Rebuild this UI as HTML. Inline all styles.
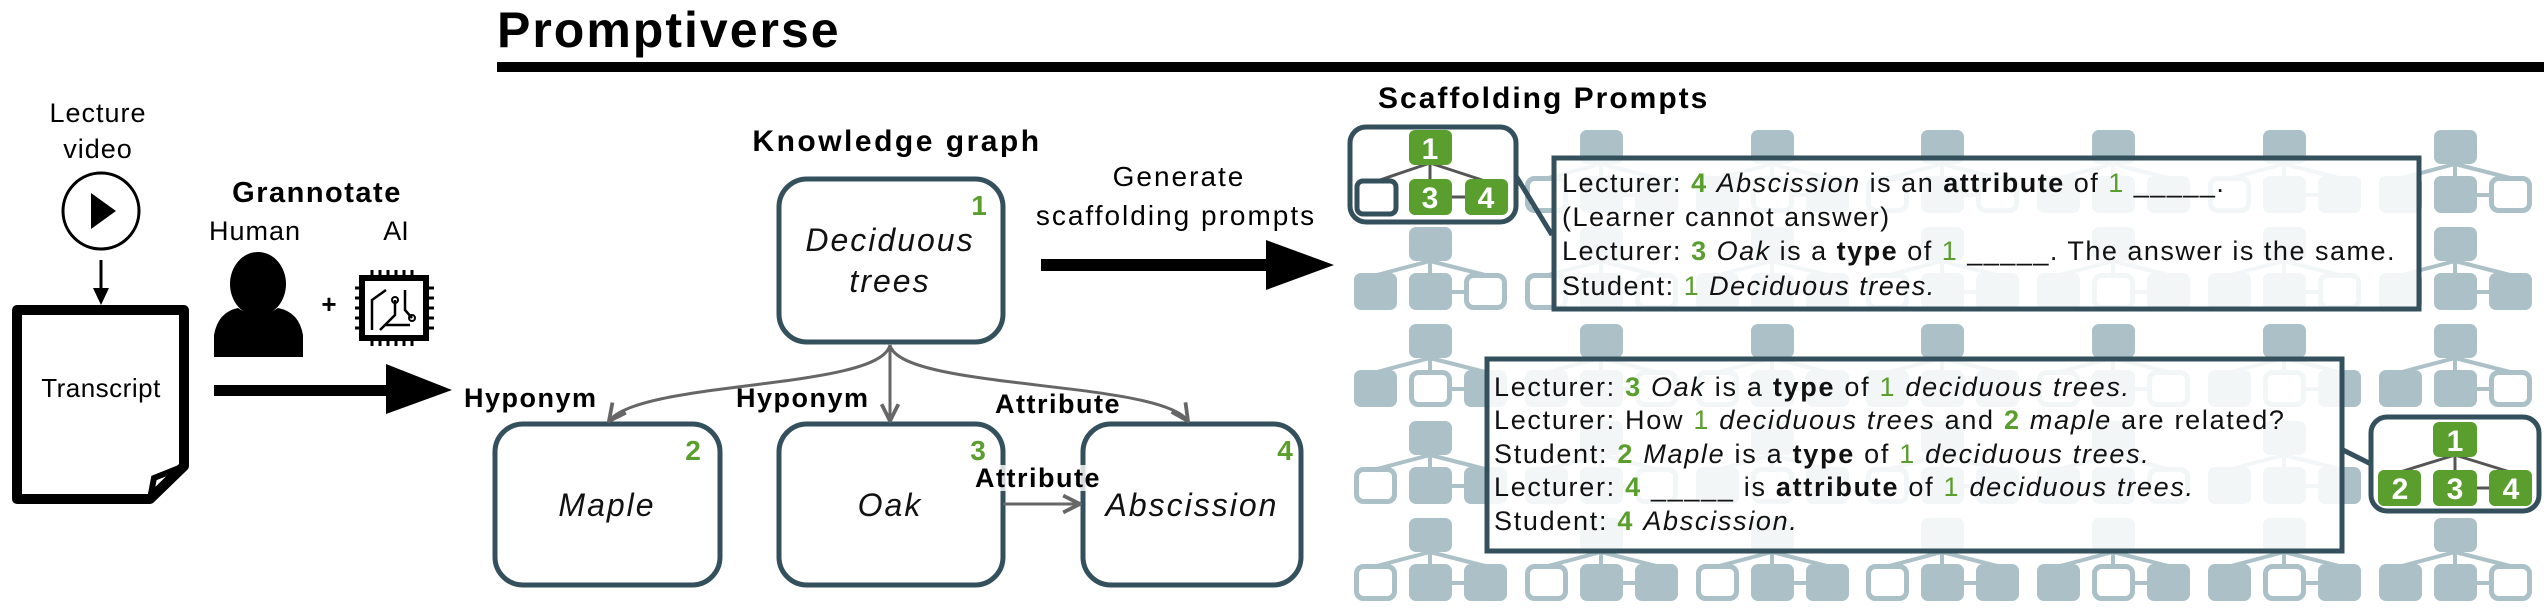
<!DOCTYPE html>
<html><head><meta charset="utf-8"><style>
html,body{margin:0;padding:0;background:#fff;}
svg{display:block;}
text{font-family:"Liberation Sans",sans-serif;}
</style></head><body>
<svg width="2544" height="608" viewBox="0 0 2544 608" xmlns="http://www.w3.org/2000/svg">
<defs>
<marker id="ah" viewBox="0 0 10 10" refX="9" refY="5" markerWidth="7" markerHeight="7" orient="auto-start-reverse"><path d="M1,1 L9,5 L1,9" fill="none" stroke="#666" stroke-width="1.8"/></marker>
<g id="T">
<rect x="-21" y="0" width="43" height="34" rx="7" fill="#abc1c7"/>
<path d="M0,34 L-53,48 M0,34 L0,48 M0,34 L55,48 M22,65 L34,65" stroke="#abc1c7" stroke-width="4" fill="none"/>
</g>
<rect id="F" x="0" y="0" width="43" height="37" rx="7" fill="#abc1c7"/>
<rect id="O" x="2.5" y="2.5" width="38" height="32" rx="7" fill="#fff" stroke="#abc1c7" stroke-width="5"/>
</defs>

<g>
<g transform="translate(1430,130)"><use href="#T"/><use href="#F" x="-76" y="46"/><use href="#F" x="-21" y="46"/><use href="#O" x="34" y="46"/></g>
<g transform="translate(1601,130)"><use href="#T"/><use href="#O" x="-76" y="46"/><use href="#F" x="-21" y="46"/><use href="#F" x="34" y="46"/></g>
<g transform="translate(1772,130)"><use href="#T"/><use href="#F" x="-76" y="46"/><use href="#O" x="-21" y="46"/><use href="#F" x="34" y="46"/></g>
<g transform="translate(1942,130)"><use href="#T"/><use href="#O" x="-76" y="46"/><use href="#F" x="-21" y="46"/><use href="#O" x="34" y="46"/></g>
<g transform="translate(2113,130)"><use href="#T"/><use href="#F" x="-76" y="46"/><use href="#F" x="-21" y="46"/><use href="#F" x="34" y="46"/></g>
<g transform="translate(2284,130)"><use href="#T"/><use href="#O" x="-76" y="46"/><use href="#F" x="-21" y="46"/><use href="#F" x="34" y="46"/></g>
<g transform="translate(2455,130)"><use href="#T"/><use href="#F" x="-76" y="46"/><use href="#F" x="-21" y="46"/><use href="#O" x="34" y="46"/></g>

<g transform="translate(1430,227)"><use href="#T"/><use href="#F" x="-76" y="46"/><use href="#F" x="-21" y="46"/><use href="#O" x="34" y="46"/></g>
<g transform="translate(1601,227)"><use href="#T"/><use href="#O" x="-76" y="46"/><use href="#F" x="-21" y="46"/><use href="#O" x="34" y="46"/></g>
<g transform="translate(1772,227)"><use href="#T"/><use href="#F" x="-76" y="46"/><use href="#F" x="-21" y="46"/><use href="#F" x="34" y="46"/></g>
<g transform="translate(1942,227)"><use href="#T"/><use href="#O" x="-76" y="46"/><use href="#F" x="-21" y="46"/><use href="#F" x="34" y="46"/></g>
<g transform="translate(2113,227)"><use href="#T"/><use href="#F" x="-76" y="46"/><use href="#O" x="-21" y="46"/><use href="#F" x="34" y="46"/></g>
<g transform="translate(2284,227)"><use href="#T"/><use href="#F" x="-76" y="46"/><use href="#F" x="-21" y="46"/><use href="#O" x="34" y="46"/></g>
<g transform="translate(2455,227)"><use href="#T"/><use href="#F" x="-76" y="46"/><use href="#F" x="-21" y="46"/><use href="#F" x="34" y="46"/></g>

<g transform="translate(1430,324)"><use href="#T"/><use href="#F" x="-76" y="46"/><use href="#O" x="-21" y="46"/><use href="#F" x="34" y="46"/></g>
<g transform="translate(1601,324)"><use href="#T"/><use href="#F" x="-76" y="46"/><use href="#F" x="-21" y="46"/><use href="#O" x="34" y="46"/></g>
<g transform="translate(1772,324)"><use href="#T"/><use href="#O" x="-76" y="46"/><use href="#F" x="-21" y="46"/><use href="#F" x="34" y="46"/></g>
<g transform="translate(1942,324)"><use href="#T"/><use href="#F" x="-76" y="46"/><use href="#F" x="-21" y="46"/><use href="#F" x="34" y="46"/></g>
<g transform="translate(2113,324)"><use href="#T"/><use href="#O" x="-76" y="46"/><use href="#F" x="-21" y="46"/><use href="#O" x="34" y="46"/></g>
<g transform="translate(2284,324)"><use href="#T"/><use href="#F" x="-76" y="46"/><use href="#O" x="-21" y="46"/><use href="#F" x="34" y="46"/></g>
<g transform="translate(2455,324)"><use href="#T"/><use href="#F" x="-76" y="46"/><use href="#F" x="-21" y="46"/><use href="#O" x="34" y="46"/></g>

<g transform="translate(1430,421)"><use href="#T"/><use href="#O" x="-76" y="46"/><use href="#F" x="-21" y="46"/><use href="#F" x="34" y="46"/></g>
<g transform="translate(1601,421)"><use href="#T"/><use href="#F" x="-76" y="46"/><use href="#F" x="-21" y="46"/><use href="#O" x="34" y="46"/></g>
<g transform="translate(1772,421)"><use href="#T"/><use href="#F" x="-76" y="46"/><use href="#O" x="-21" y="46"/><use href="#F" x="34" y="46"/></g>
<g transform="translate(1942,421)"><use href="#T"/><use href="#O" x="-76" y="46"/><use href="#F" x="-21" y="46"/><use href="#F" x="34" y="46"/></g>
<g transform="translate(2113,421)"><use href="#T"/><use href="#F" x="-76" y="46"/><use href="#F" x="-21" y="46"/><use href="#O" x="34" y="46"/></g>
<g transform="translate(2284,421)"><use href="#T"/><use href="#F" x="-76" y="46"/><use href="#F" x="-21" y="46"/><use href="#F" x="34" y="46"/></g>

<g transform="translate(1430,518)"><use href="#T"/><use href="#O" x="-76" y="46"/><use href="#F" x="-21" y="46"/><use href="#F" x="34" y="46"/></g>
<g transform="translate(1601,518)"><use href="#T"/><use href="#O" x="-76" y="46"/><use href="#F" x="-21" y="46"/><use href="#F" x="34" y="46"/></g>
<g transform="translate(1772,518)"><use href="#T"/><use href="#O" x="-76" y="46"/><use href="#F" x="-21" y="46"/><use href="#F" x="34" y="46"/></g>
<g transform="translate(1942,518)"><use href="#T"/><use href="#O" x="-76" y="46"/><use href="#F" x="-21" y="46"/><use href="#F" x="34" y="46"/></g>
<g transform="translate(2113,518)"><use href="#T"/><use href="#F" x="-76" y="46"/><use href="#O" x="-21" y="46"/><use href="#F" x="34" y="46"/></g>
<g transform="translate(2284,518)"><use href="#T"/><use href="#F" x="-76" y="46"/><use href="#O" x="-21" y="46"/><use href="#F" x="34" y="46"/></g>
<g transform="translate(2455,518)"><use href="#T"/><use href="#F" x="-76" y="46"/><use href="#F" x="-21" y="46"/><use href="#O" x="34" y="46"/></g>
</g>

<!-- title -->
<text x="497" y="47" font-size="50" font-weight="bold" letter-spacing="2">Promptiverse</text>
<rect x="497" y="62" width="2047" height="10" fill="#000"/>

<!-- left -->
<text x="98" y="122" font-size="27" text-anchor="middle" letter-spacing="1">Lecture</text>
<text x="98" y="158" font-size="27" text-anchor="middle" letter-spacing="1">video</text>
<ellipse cx="101" cy="211" rx="38" ry="38" fill="#fff" stroke="#000" stroke-width="3"/>
<path d="M91,193 L91,229 L116,211 Z" fill="#000"/>
<line x1="101" y1="260" x2="101" y2="290" stroke="#000" stroke-width="3"/>
<path d="M93,288 L109,288 L101,305 Z" fill="#000"/>
<path d="M17,310 L184,310 L184,466 L150,499 L17,499 Z" fill="#fff" stroke="#000" stroke-width="10" stroke-linejoin="round"/>
<path d="M184,466 L154,478 L150,499" fill="none" stroke="#000" stroke-width="6"/>
<text x="101" y="397" font-size="26" text-anchor="middle" letter-spacing="0.5">Transcript</text>

<text x="317" y="202" font-size="29" font-weight="bold" text-anchor="middle" letter-spacing="1.5">Grannotate</text>
<text x="255" y="240" font-size="27" text-anchor="middle" letter-spacing="1">Human</text>
<text x="396" y="240" font-size="27" text-anchor="middle">AI</text>
<path d="M214,357 L214,335 Q218,312 238,308 Q258,322 278,308 Q299,312 303,335 L303,357 Z" fill="#000"/>
<ellipse cx="258" cy="284" rx="28" ry="32" fill="#000"/>
<text x="329" y="313" font-size="26" font-weight="bold" text-anchor="middle">+</text>
<g stroke="#000" fill="none">
<rect x="362" y="278" width="64" height="60" stroke-width="6"/>
<path d="M372,270 V278 M380,270 V278 M388,270 V278 M396,270 V278 M404,270 V278 M412,270 V278 M372,338 V346 M380,338 V346 M388,338 V346 M396,338 V346 M404,338 V346 M412,338 V346 M355,288 H362 M355,298 H362 M355,308 H362 M355,318 H362 M355,328 H362 M426,288 H434 M426,298 H434 M426,308 H434 M426,318 H434 M426,328 H434" stroke-width="3"/>
<path d="M372,330 L372,300 L386,290 M380,330 L395,315 L395,300 M405,290 L405,310 L412,318 M385,325 L410,325" stroke-width="2.5"/>
<circle cx="395" cy="300" r="3" stroke-width="2"/><circle cx="412" cy="318" r="3" stroke-width="2"/>
</g>
<rect x="214" y="385" width="174" height="11" fill="#000"/>
<path d="M386,364 L452,390 L386,414 Z" fill="#000"/>

<!-- knowledge graph -->
<text x="897" y="151" font-size="30" font-weight="bold" text-anchor="middle" letter-spacing="2.5">Knowledge graph</text>
<g fill="#fff" stroke="#34505c" stroke-width="5">
<rect x="779" y="179" width="224" height="163" rx="28"/>
<rect x="495" y="424" width="225" height="161" rx="28"/>
<rect x="779" y="424" width="224" height="161" rx="28"/>
<rect x="1083" y="424" width="218" height="161" rx="28"/>
</g>
<g fill="#5a9e2e" font-size="28" font-weight="bold" text-anchor="middle">
<text x="979" y="215">1</text><text x="693" y="460">2</text><text x="978" y="460">3</text><text x="1285" y="460">4</text>
</g>
<g font-size="32" font-style="italic" text-anchor="middle" fill="#111" letter-spacing="2">
<text x="890" y="251">Deciduous</text><text x="890" y="292">trees</text>
<text x="607" y="516">Maple</text><text x="890" y="516">Oak</text><text x="1192" y="516">Abscission</text>
</g>
<g stroke="#666" stroke-width="3" fill="none" marker-end="url(#ah)">
<path d="M890,345 C880,390 640,380 609,421"/>
<path d="M890,345 L890,421"/>
<path d="M890,345 C900,390 1160,380 1188,421"/>
<path d="M1003,504 L1080,504"/>
</g>
<g font-size="27" font-weight="bold" letter-spacing="1.5">
<text x="464" y="407">Hyponym</text>
<text x="736" y="407">Hyponym</text>
<text x="995" y="413">Attribute</text>
<rect x="975" y="465" width="134" height="26" fill="#fff" opacity="0.8"/>
<text x="975" y="487">Attribute</text>
</g>

<text x="1179" y="186" font-size="28" text-anchor="middle" letter-spacing="2">Generate</text>
<text x="1176" y="225" font-size="28" text-anchor="middle" letter-spacing="2">scaffolding prompts</text>
<rect x="1041" y="259" width="228" height="12" fill="#000"/>
<path d="M1266,240 L1334,265 L1266,290 Z" fill="#000"/>

<text x="1378" y="108" font-size="30" font-weight="bold" letter-spacing="2">Scaffolding Prompts</text>

<line x1="1516" y1="176" x2="1552" y2="235" stroke="#34505c" stroke-width="5"/>
<rect x="1554" y="158" width="865" height="151" fill="#fff" fill-opacity="0.85" stroke="#34505c" stroke-width="5"/>
<g font-size="27" fill="#111" letter-spacing="1.5">
<text x="1562" y="192">Lecturer: <tspan fill="#5a9e2e" font-weight="bold">4</tspan> <tspan font-style="italic">Abscission</tspan> is an <tspan font-weight="bold">attribute</tspan> of <tspan fill="#5a9e2e">1</tspan> _____.</text>
<text x="1562" y="226">(Learner cannot answer)</text>
<text x="1562" y="260">Lecturer: <tspan fill="#5a9e2e" font-weight="bold">3</tspan> <tspan font-style="italic">Oak</tspan> is a <tspan font-weight="bold">type</tspan> of <tspan fill="#5a9e2e">1</tspan>  _____. The answer is the same.</text>
<text x="1562" y="295">Student: <tspan fill="#5a9e2e">1</tspan> <tspan font-style="italic">Deciduous trees.</tspan></text>
</g>

<line x1="2343" y1="450" x2="2371" y2="464" stroke="#34505c" stroke-width="5"/>
<rect x="1487" y="359" width="855" height="192" fill="#fff" fill-opacity="0.85" stroke="#34505c" stroke-width="5"/>
<g font-size="27" fill="#111" letter-spacing="1.7">
<text x="1494" y="396">Lecturer: <tspan fill="#5a9e2e" font-weight="bold">3</tspan> <tspan font-style="italic">Oak</tspan> is a <tspan font-weight="bold">type</tspan> of <tspan fill="#5a9e2e">1</tspan> <tspan font-style="italic">deciduous trees.</tspan></text>
<text x="1494" y="429">Lecturer: How <tspan fill="#5a9e2e">1</tspan> <tspan font-style="italic">deciduous trees</tspan> and <tspan fill="#5a9e2e" font-weight="bold">2</tspan> <tspan font-style="italic">maple</tspan> are related?</text>
<text x="1494" y="463">Student: <tspan fill="#5a9e2e" font-weight="bold">2</tspan> <tspan font-style="italic">Maple</tspan> is a <tspan font-weight="bold">type</tspan> of <tspan fill="#5a9e2e">1</tspan> <tspan font-style="italic">deciduous trees.</tspan></text>
<text x="1494" y="496">Lecturer: <tspan fill="#5a9e2e" font-weight="bold">4</tspan> _____ is <tspan font-weight="bold">attribute</tspan> of <tspan fill="#5a9e2e">1</tspan> <tspan font-style="italic">deciduous trees.</tspan></text>
<text x="1494" y="530">Student: <tspan fill="#5a9e2e" font-weight="bold">4</tspan> <tspan font-style="italic">Abscission.</tspan></text>
</g>

<rect x="1350" y="127" width="166" height="95" rx="16" fill="#fff" stroke="#34505c" stroke-width="5"/>
<g stroke="#555" stroke-width="3"><path d="M1430,163 L1377,181 M1430,163 L1430,181 M1430,163 L1485,181 M1452,197 L1465,197"/></g>
<rect x="1409" y="130" width="43" height="35" rx="6" fill="#5a9e2e"/>
<rect x="1357" y="181" width="39" height="33" rx="6" fill="#fff" stroke="#34505c" stroke-width="5"/>
<rect x="1409" y="179" width="43" height="36" rx="6" fill="#5a9e2e"/>
<rect x="1465" y="179" width="43" height="36" rx="6" fill="#5a9e2e"/>
<g fill="#fff" font-size="30" font-weight="bold" text-anchor="middle">
<text x="1430" y="159">1</text><text x="1430" y="208">3</text><text x="1486" y="208">4</text>
</g>

<rect x="2371" y="417" width="168" height="94" rx="16" fill="#fff" stroke="#34505c" stroke-width="5"/>
<g stroke="#555" stroke-width="3"><path d="M2455,455 L2400,472 M2455,455 L2455,472 M2455,455 L2510,472 M2477,488 L2489,488"/></g>
<rect x="2433" y="422" width="44" height="35" rx="6" fill="#5a9e2e"/>
<rect x="2378" y="470" width="43" height="36" rx="6" fill="#5a9e2e"/>
<rect x="2433" y="470" width="44" height="36" rx="6" fill="#5a9e2e"/>
<rect x="2489" y="470" width="43" height="36" rx="6" fill="#5a9e2e"/>
<g fill="#fff" font-size="30" font-weight="bold" text-anchor="middle">
<text x="2455" y="451">1</text><text x="2400" y="499">2</text><text x="2455" y="499">3</text><text x="2511" y="499">4</text>
</g>
</svg>
</body></html>
